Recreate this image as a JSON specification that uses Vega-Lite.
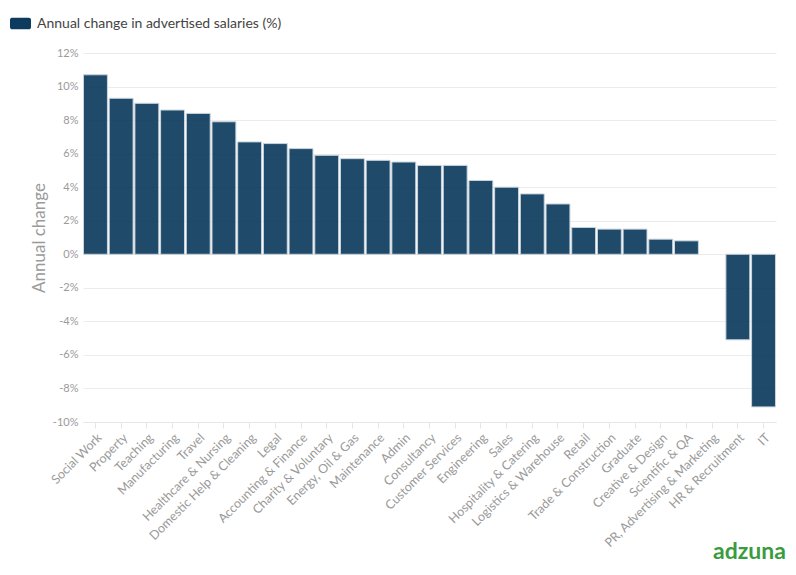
{
  "$schema": "https://vega.github.io/schema/vega-lite/v6.json",
  "autosize": {"type": "none"},
  "padding": {"left": 83, "top": 53, "right": 20, "bottom": 153},
  "width": 693,
  "height": 369,
  "background": "white",
  "config": {
    "font": "Lato",
    "view": {"stroke": null}
  },
  "title": {
    "text": "adzuna",
    "orient": "bottom",
    "anchor": "end",
    "color": "#3a9b3f",
    "fontSize": 23,
    "fontWeight": "bold",
    "font": "Lato",
    "offset": -8,
    "dx": 10
  },
  "data": {
    "values": [
      {"sector": "Social Work", "change": 10.7},
      {"sector": "Property", "change": 9.3},
      {"sector": "Teaching", "change": 9.0},
      {"sector": "Manufacturing", "change": 8.6},
      {"sector": "Travel", "change": 8.4},
      {"sector": "Healthcare & Nursing", "change": 7.9},
      {"sector": "Domestic Help & Cleaning", "change": 6.7},
      {"sector": "Legal", "change": 6.6},
      {"sector": "Accounting & Finance", "change": 6.3},
      {"sector": "Charity & Voluntary", "change": 5.9},
      {"sector": "Energy, Oil & Gas", "change": 5.7},
      {"sector": "Maintenance", "change": 5.6},
      {"sector": "Admin", "change": 5.5},
      {"sector": "Consultancy", "change": 5.3},
      {"sector": "Customer Services", "change": 5.3},
      {"sector": "Engineering", "change": 4.4},
      {"sector": "Sales", "change": 4.0},
      {"sector": "Hospitality & Catering", "change": 3.6},
      {"sector": "Logistics & Warehouse", "change": 3.0},
      {"sector": "Retail", "change": 1.6},
      {"sector": "Trade & Construction", "change": 1.5},
      {"sector": "Graduate", "change": 1.5},
      {"sector": "Creative & Design", "change": 0.9},
      {"sector": "Scientific & QA", "change": 0.8},
      {"sector": "PR, Advertising & Marketing", "change": 0.0},
      {"sector": "HR & Recruitment", "change": -5.1},
      {"sector": "IT", "change": -9.1}
    ]
  },
  "mark": {"type": "bar", "opacity": 0.92, "stroke": "#c5d1db", "strokeWidth": 1},
  "encoding": {
    "x": {
      "field": "sector",
      "type": "nominal",
      "sort": null,
      "scale": {"paddingInner": 0.07, "paddingOuter": 0.02},
      "axis": {
        "title": null,
        "labelAngle": -45,
        "labelFontSize": 12.5,
        "labelColor": "#9a9a9a",
        "labelPadding": 3,
        "labelLimit": 300,
        "domainColor": "#e6e6e6",
        "tickColor": "#e6e6e6",
        "tickSize": 6
      }
    },
    "y": {
      "field": "change",
      "type": "quantitative",
      "scale": {"domain": [-10, 12], "nice": false},
      "axis": {
        "title": "Annual change",
        "titleFontSize": 17,
        "titleFontWeight": "normal",
        "titleColor": "#9a9a9a",
        "titlePadding": 4,
        "values": [-10, -8, -6, -4, -2, 0, 2, 4, 6, 8, 10, 12],
        "labelExpr": "datum.value + '%'",
        "labelFontSize": 11,
        "labelColor": "#9a9a9a",
        "labelPadding": 5,
        "domain": false,
        "ticks": false,
        "gridColor": "#ececec"
      }
    },
    "strokeOpacity": {
      "condition": {"test": "datum.change == 0", "value": 0},
      "value": 1
    },
    "color": {
      "datum": "Annual change in advertised salaries (%)",
      "type": "nominal",
      "scale": {"range": ["#0d3b5e"]},
      "legend": {
        "title": null,
        "orient": "none",
        "legendX": -73,
        "legendY": -40,
        "symbolType": "M-0.8,-0.55 H0.8 A0.2,0.2 0 0 1 1,-0.35 V0.35 A0.2,0.2 0 0 1 0.8,0.55 H-0.8 A0.2,0.2 0 0 1 -1,0.35 V-0.35 A0.2,0.2 0 0 1 -0.8,-0.55 Z",
        "symbolSize": 441,
        "symbolOpacity": 1,
        "symbolStrokeWidth": 0,
        "labelFontSize": 14,
        "labelLimit": 400,
        "labelColor": "#444444",
        "labelOffset": 6
      }
    }
  }
}
